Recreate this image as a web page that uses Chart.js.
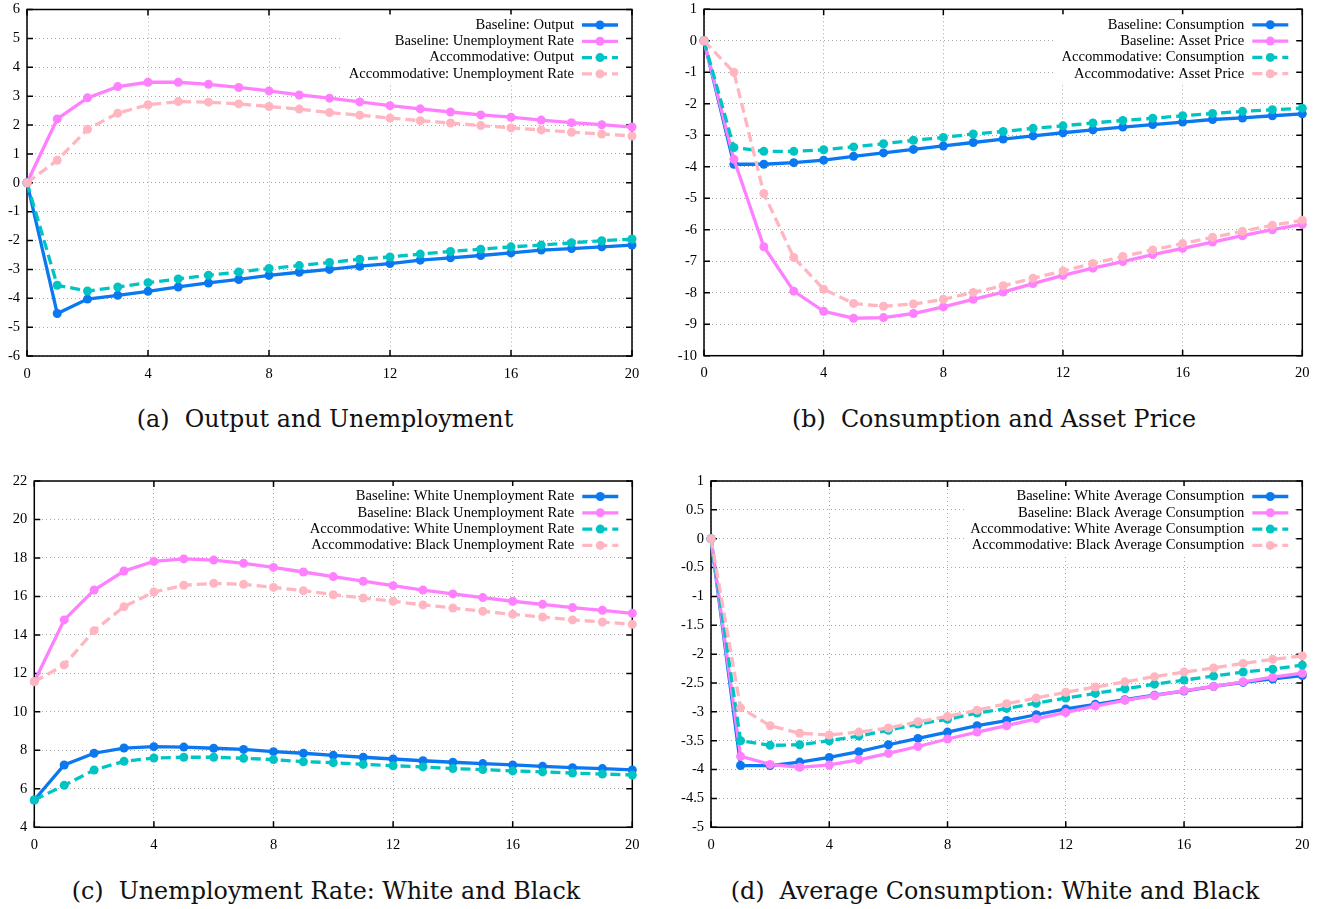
<!DOCTYPE html>
<html lang="en">
<head>
<meta charset="UTF-8">
<title>Impulse responses: baseline vs accommodative</title>
<script src="https://cdn.jsdelivr.net/npm/chart.js"></script>
<style>
    body { margin: 0; background: #fff; width: 1323px; height: 909px; position: relative; overflow: hidden; }
    canvas { position: absolute; }
    .caption { position: absolute; width: 600px; text-align: center; white-space: pre; line-height: 28px;
               font-family: "DejaVu Serif", serif; font-size: 23.8px; color: #111; }
</style>
</head>
<body>
<canvas id="chartA" width="660" height="390" style="left:0;top:0"></canvas>
<canvas id="chartB" width="663" height="390" style="left:660px;top:0"></canvas>
<canvas id="chartC" width="660" height="390" style="left:0;top:470px"></canvas>
<canvas id="chartD" width="663" height="390" style="left:660px;top:470px"></canvas>
<div class="caption" style="left:25px;top:405px">(a)  Output and Unemployment</div>
<div class="caption" style="left:694px;top:405px">(b)  Consumption and Asset Price</div>
<div class="caption" style="left:26px;top:877px">(c)  Unemployment Rate: White and Black</div>
<div class="caption" style="left:695px;top:877px">(d)  Average Consumption: White and Black</div>
<script>
// quarters after the shock
const periods = [0, 1, 2, 3, 4, 5, 6, 7, 8, 9, 10, 11, 12, 13, 14, 15, 16, 17, 18, 19, 20];

// (a) output and unemployment
const outputBase  = [0, -4.53, -4.03, -3.90, -3.76, -3.61, -3.47, -3.35, -3.21, -3.10, -3.00, -2.89, -2.80, -2.68, -2.60, -2.52, -2.43, -2.33, -2.28, -2.22, -2.16];
const unempBase   = [0, 2.21, 2.94, 3.33, 3.48, 3.48, 3.41, 3.30, 3.18, 3.04, 2.93, 2.80, 2.67, 2.56, 2.45, 2.35, 2.27, 2.17, 2.08, 2.01, 1.93];
const outputAccom = [0, -3.55, -3.75, -3.61, -3.46, -3.33, -3.20, -3.09, -2.97, -2.87, -2.76, -2.65, -2.57, -2.47, -2.38, -2.30, -2.22, -2.16, -2.08, -2.01, -1.95];
const unempAccom  = [0, 0.78, 1.85, 2.41, 2.70, 2.81, 2.79, 2.73, 2.64, 2.55, 2.43, 2.34, 2.24, 2.15, 2.07, 1.98, 1.90, 1.83, 1.75, 1.69, 1.62];

// (b) consumption and asset price
const consBase   = [0, -3.92, -3.92, -3.87, -3.79, -3.67, -3.56, -3.45, -3.34, -3.23, -3.12, -3.02, -2.92, -2.83, -2.74, -2.66, -2.58, -2.50, -2.45, -2.38, -2.32];
const assetBase  = [0, -3.76, -6.54, -7.95, -8.59, -8.81, -8.79, -8.66, -8.45, -8.21, -7.98, -7.71, -7.45, -7.22, -7.01, -6.79, -6.59, -6.39, -6.19, -6.00, -5.83];
const consAccom  = [0, -3.39, -3.51, -3.51, -3.46, -3.37, -3.27, -3.16, -3.07, -2.96, -2.88, -2.78, -2.70, -2.61, -2.53, -2.46, -2.38, -2.31, -2.24, -2.19, -2.14];
const assetAccom = [0, -1.00, -4.85, -6.88, -7.89, -8.34, -8.43, -8.36, -8.21, -7.99, -7.78, -7.54, -7.31, -7.07, -6.85, -6.64, -6.44, -6.24, -6.05, -5.86, -5.70];

// (c) unemployment rate by race
const whiteUnempBase  = [5.42, 7.24, 7.85, 8.12, 8.19, 8.17, 8.11, 8.05, 7.93, 7.85, 7.74, 7.64, 7.55, 7.46, 7.38, 7.31, 7.24, 7.17, 7.10, 7.05, 6.98];
const blackUnempBase  = [11.57, 14.78, 16.33, 17.32, 17.82, 17.95, 17.89, 17.72, 17.51, 17.27, 17.03, 16.79, 16.56, 16.33, 16.13, 15.94, 15.75, 15.59, 15.42, 15.28, 15.12];
const whiteUnempAccom = [5.42, 6.18, 6.98, 7.43, 7.60, 7.64, 7.64, 7.59, 7.52, 7.41, 7.36, 7.27, 7.20, 7.14, 7.05, 7.00, 6.93, 6.88, 6.82, 6.77, 6.72];
const blackUnempAccom = [11.57, 12.44, 14.22, 15.47, 16.23, 16.58, 16.68, 16.63, 16.47, 16.30, 16.09, 15.92, 15.75, 15.56, 15.40, 15.23, 15.07, 14.93, 14.78, 14.67, 14.55];

// (d) average consumption by race
const whiteConsBase  = [0, -3.93, -3.93, -3.87, -3.79, -3.69, -3.57, -3.46, -3.35, -3.24, -3.15, -3.05, -2.95, -2.87, -2.79, -2.71, -2.64, -2.56, -2.49, -2.43, -2.37];
const blackConsBase  = [0, -3.77, -3.91, -3.96, -3.92, -3.83, -3.72, -3.60, -3.47, -3.35, -3.24, -3.12, -3.01, -2.90, -2.80, -2.72, -2.63, -2.56, -2.48, -2.40, -2.33];
const whiteConsAccom = [0, -3.50, -3.58, -3.57, -3.50, -3.42, -3.32, -3.21, -3.13, -3.02, -2.94, -2.85, -2.76, -2.68, -2.60, -2.52, -2.45, -2.38, -2.31, -2.26, -2.19];
const blackConsAccom = [0, -2.93, -3.24, -3.37, -3.40, -3.35, -3.28, -3.17, -3.08, -2.97, -2.86, -2.76, -2.66, -2.57, -2.48, -2.39, -2.31, -2.24, -2.16, -2.09, -2.03];

const BLUE = '#0a78f0', VIOLET = '#ff80ff', TEAL = '#00c4c4', PINK = '#ffb6c1';
const tickFont = { family: 'Liberation Serif', size: 14.5 };

// border + inward tick marks on all four sides, like gnuplot
const frame = {
    id: 'frame',
    beforeDatasetsDraw(chart) {
        const { ctx, chartArea: a, scales: { x, y } } = chart;
        ctx.save();
        ctx.strokeStyle = '#000';
        ctx.lineWidth = 1.5;
        ctx.beginPath();
        x.ticks.forEach(t => {
            const px = x.getPixelForValue(t.value);
            ctx.moveTo(px, a.bottom); ctx.lineTo(px, a.bottom - 6);
            ctx.moveTo(px, a.top); ctx.lineTo(px, a.top + 6);
        });
        y.ticks.forEach(t => {
            const py = y.getPixelForValue(t.value);
            ctx.moveTo(a.left, py); ctx.lineTo(a.left + 6, py);
            ctx.moveTo(a.right, py); ctx.lineTo(a.right - 6, py);
        });
        ctx.stroke();
        ctx.strokeRect(a.left, a.top, a.right - a.left, a.bottom - a.top);
        ctx.restore();
    }
};

// key in the top right corner of the plot, on a white box
const insideKey = {
    id: 'insideKey',
    afterDatasetsDraw(chart) {
        const { ctx, chartArea: a } = chart;
        const sets = chart.data.datasets;
        const textRight = a.right - 58;
        ctx.save();
        ctx.font = '14.6px "Liberation Serif"';
        let widest = 0;
        sets.forEach(ds => { widest = Math.max(widest, ctx.measureText(ds.label).width); });
        ctx.fillStyle = '#fff';
        ctx.fillRect(textRight - widest - 6, a.top + 5, widest + 56, sets.length * 16.3 + 3);
        sets.forEach((ds, i) => {
            const yy = a.top + 15.5 + i * 16.3;
            ctx.fillStyle = '#000';
            ctx.textAlign = 'right';
            ctx.textBaseline = 'middle';
            ctx.fillText(ds.label, textRight, yy);
            ctx.strokeStyle = ds.borderColor;
            ctx.lineWidth = ds.borderWidth;
            ctx.setLineDash(ds.borderDash || []);
            ctx.beginPath();
            ctx.moveTo(textRight + 8, yy);
            ctx.lineTo(textRight + 44, yy);
            ctx.stroke();
            ctx.setLineDash([]);
            ctx.fillStyle = ds.borderColor;
            ctx.beginPath();
            ctx.arc(textRight + 26, yy, 4.5, 0, Math.PI * 2);
            ctx.fill();
        });
        ctx.restore();
    }
};

function series(label, values, color, dashed, order) {
    return {
        label: label,
        data: periods.map((t, i) => ({ x: t, y: values[i] })),
        borderColor: color,
        backgroundColor: color,
        borderWidth: 3.3,
        borderDash: dashed ? [10, 5] : [],
        pointRadius: 4.5,
        pointBorderWidth: 0,
        pointBackgroundColor: color,
        clip: false,
        order: order
    };
}

function makePanel(id, datasets, yMin, yMax, yStep, box) {
    new Chart(document.getElementById(id), {
        type: 'line',
        data: { datasets: datasets },
        options: {
            responsive: false,
            animation: false,
            devicePixelRatio: 1,
            layout: { padding: { top: box.top, right: box.right, left: 0, bottom: 0 } },
            plugins: { legend: { display: false }, tooltip: { enabled: false } },
            scales: {
                x: {
                    type: 'linear', min: 0, max: 20,
                    ticks: { stepSize: 4, color: '#000', font: tickFont, padding: 9 },
                    grid: { color: '#a8a8a8', lineWidth: 1, drawTicks: false },
                    border: { display: false, dash: [1, 3] },
                    afterFit: s => { s.height = box.bottom; s.paddingLeft = 0; s.paddingRight = 0; }
                },
                y: {
                    type: 'linear', min: yMin, max: yMax,
                    ticks: { stepSize: yStep, color: '#000', font: tickFont, padding: 7,
                             callback: v => String(v) },
                    grid: { color: '#a8a8a8', lineWidth: 1, drawTicks: false },
                    border: { display: false, dash: [1, 3] },
                    afterFit: s => { s.width = box.left; s.paddingTop = 0; s.paddingBottom = 0; }
                }
            }
        },
        plugins: [frame, insideKey]
    });
}

makePanel('chartA', [
    series('Baseline: Output', outputBase, BLUE, false, 3),
    series('Baseline: Unemployment Rate', unempBase, VIOLET, false, 2),
    series('Accommodative: Output', outputAccom, TEAL, true, 1),
    series('Accommodative: Unemployment Rate', unempAccom, PINK, true, 0)
], -6, 6, 1, { left: 27, top: 9.5, right: 28, bottom: 34 });

makePanel('chartB', [
    series('Baseline: Consumption', consBase, BLUE, false, 3),
    series('Baseline: Asset Price', assetBase, VIOLET, false, 2),
    series('Accommodative: Consumption', consAccom, TEAL, true, 1),
    series('Accommodative: Asset Price', assetAccom, PINK, true, 0)
], -10, 1, 1, { left: 44, top: 9.3, right: 20.7, bottom: 34.3 });

makePanel('chartC', [
    series('Baseline: White Unemployment Rate', whiteUnempBase, BLUE, false, 3),
    series('Baseline: Black Unemployment Rate', blackUnempBase, VIOLET, false, 2),
    series('Accommodative: White Unemployment Rate', whiteUnempAccom, TEAL, true, 1),
    series('Accommodative: Black Unemployment Rate', blackUnempAccom, PINK, true, 0)
], 4, 22, 2, { left: 34.3, top: 11, right: 27.7, bottom: 32.7 });

makePanel('chartD', [
    series('Baseline: White Average Consumption', whiteConsBase, BLUE, false, 3),
    series('Baseline: Black Average Consumption', blackConsBase, VIOLET, false, 2),
    series('Accommodative: White Average Consumption', whiteConsAccom, TEAL, true, 1),
    series('Accommodative: Black Average Consumption', blackConsAccom, PINK, true, 0)
], -5, 1, 0.5, { left: 51, top: 11, right: 20.7, bottom: 32.7 });
</script>
</body>
</html>
